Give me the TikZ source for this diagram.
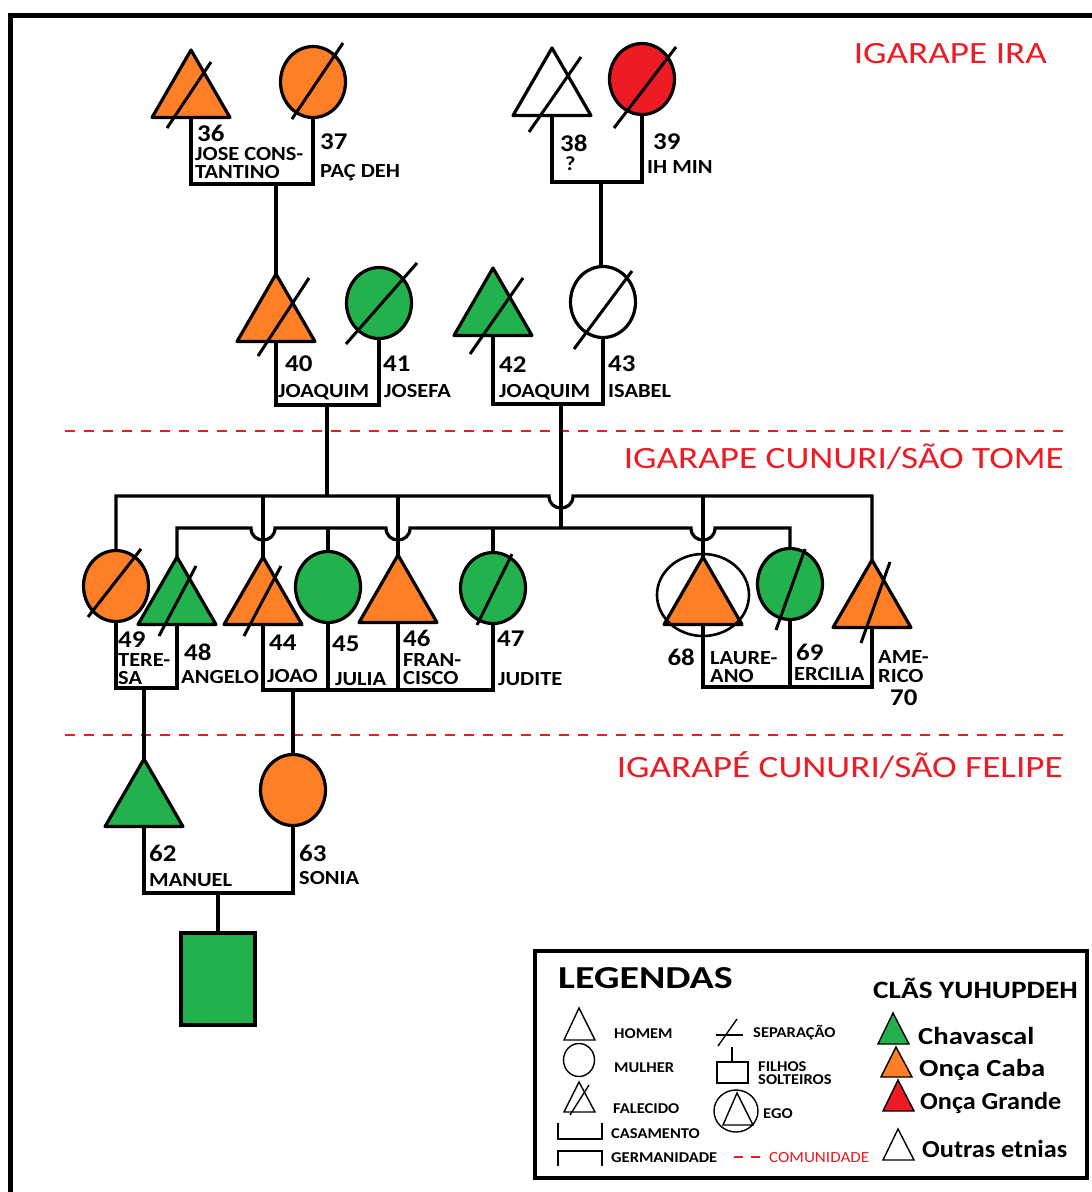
\documentclass[tikz,border=0pt]{standalone}
\usepackage{fontspec}
\setmainfont{Carlito}
\newfontfamily\lblfont[FakeStretch=1.12]{Carlito}
\newfontfamily\legfont[FakeStretch=1.1]{Carlito}
\newfontfamily\placefont[FakeStretch=1.2]{Carlito}
\newfontfamily\titlefont[FakeStretch=1.25]{Carlito}
\newfontfamily\clanfont[FakeStretch=1.17]{Carlito}
\newfontfamily\clannarrow[FakeStretch=1.07]{Carlito}
\usetikzlibrary{shapes.geometric}

\definecolor{clanorange}{RGB}{255,127,39}
\definecolor{clangreen}{RGB}{34,177,76}
\definecolor{clanred}{RGB}{237,28,36}

\begin{document}
\begin{tikzpicture}[x=1pt,y=-1pt,
  kin/.style={line width=3.2pt},
  male/.style={regular polygon, regular polygon sides=3, minimum size=90pt,
    inner sep=0pt, outer sep=0pt, draw, line width=3.2pt, line join=round},
  female/.style={ellipse, minimum width=65pt, minimum height=71pt,
    inner sep=0pt, outer sep=0pt, draw, line width=3.2pt},
  strike/.style={line width=3pt},
  idnum/.style={inner sep=0pt, anchor=base west, font=\lblfont\fontsize{24}{24}\selectfont\bfseries},
  pname/.style={inner sep=0pt, anchor=base west, font=\lblfont\fontsize{20}{20}\selectfont\bfseries},
  placelabel/.style={inner sep=0pt, anchor=base east, text=clanred, font=\placefont\fontsize{31}{31}\selectfont},
  community/.style={draw=clanred, line width=2pt, dash pattern=on 10pt off 9pt},
  legtext/.style={inner sep=0pt, anchor=base west, font=\legfont\fontsize{15}{15}\selectfont\bfseries},
  clantext/.style={inner sep=0pt, anchor=base west, font=\clanfont\fontsize{24.5}{24.5}\selectfont\bfseries},
  clantextn/.style={inner sep=0pt, anchor=base west, font=\clannarrow\fontsize{24.5}{24.5}\selectfont\bfseries},
  icon/.style={line width=1.4pt}
]
\useasboundingbox (0,0) rectangle (1092,1192);
\clip (0,0) rectangle (1092,1192);
\fill[white] (0,0) rectangle (1092,1192);

% outer frame
\draw[line width=4.5pt] (10.5,15.5) rectangle (1200,1300);

% community boundaries
\draw[community] (65,431) -- (1064,431);
\draw[community] (65,735) -- (1064,735);
\node[placelabel] (igira) at (1047,63) {IGARAPE IRA};
\node[placelabel] (igtome) at (1064,468) {IGARAPE CUNURI/SÃO TOME};
\node[placelabel] (igfelipe) at (1063,777) {IGARAPÉ CUNURI/SÃO FELIPE};

% ---- people ----
\node[male, fill=clanorange] (p36) at (191,95) {};
\node[female, fill=clanorange] (p37) at (313,82) {};
\node[male, fill=white] (p38) at (552,93) {};
\node[female, fill=clanred] (p39) at (642,79) {};
\node[male, fill=clanorange] (p40) at (276,319) {};
\node[female, fill=clangreen] (p41) at (379,303) {};
\node[male, fill=clangreen] (p42) at (493,313) {};
\node[female, fill=white] (p43) at (603,302) {};
\node[female, fill=clanorange] (p49) at (116,586) {};
\node[male, fill=clangreen] (p48) at (177,602) {};
\node[male, fill=clanorange] (p44) at (263,602) {};
\node[female, fill=clangreen] (p45) at (328,587) {};
\node[male, fill=clanorange] (p46) at (398,600) {};
\node[female, fill=clangreen] (p47) at (493,588) {};
\node[male, fill=clanorange] (p68) at (703,602) {};
\node[ellipse, draw, line width=2.6pt, minimum width=92pt, minimum height=82pt,
  inner sep=0pt, outer sep=0pt] (ego) at (703,595) {};
\node[female, fill=clangreen] (p69) at (790,584) {};
\node[male, fill=clanorange] (p70) at (872,605) {};
\node[male, fill=clangreen] (p62) at (144,804) {};
\node[female, fill=clanorange] (p63) at (293,790) {};
\node[rectangle, draw, fill=clangreen, minimum width=74pt, minimum height=92pt,
  line width=3.2pt, inner sep=0pt, outer sep=0pt] (c1) at (218,979) {};

% deceased strokes
\draw[strike] ([shift={(-24,33)}]p36.center) -- ([shift={(20,-33)}]p36.center);
\draw[strike] ([shift={(-21,37)}]p37.center) -- ([shift={(30,-39)}]p37.center);
\draw[strike] ([shift={(-23,39)}]p38.center) -- ([shift={(29,-36)}]p38.center);
\draw[strike] ([shift={(-28,49)}]p39.center) -- ([shift={(34,-32)}]p39.center);
\draw[strike] ([shift={(-18,37)}]p40.center) -- ([shift={(33,-41)}]p40.center);
\draw[strike] ([shift={(-33,41)}]p41.center) -- ([shift={(38,-40)}]p41.center);
\draw[strike] ([shift={(-23,41)}]p42.center) -- ([shift={(30,-35)}]p42.center);
\draw[strike] ([shift={(-29,47)}]p43.center) -- ([shift={(29,-31)}]p43.center);
\draw[strike] ([shift={(-28,31)}]p49.center) -- ([shift={(25,-37)}]p49.center);
\draw[strike] ([shift={(-18,34)}]p48.center) -- ([shift={(19,-36)}]p48.center);
\draw[strike] ([shift={(-19,34)}]p44.center) -- ([shift={(18,-36)}]p44.center);
\draw[strike] ([shift={(-16,37)}]p47.center) -- ([shift={(19,-34)}]p47.center);
\draw[strike] ([shift={(-14,46)}]p69.center) -- ([shift={(15,-35)}]p69.center);
\draw[strike] ([shift={(-11,38)}]p70.center) -- ([shift={(18,-43)}]p70.center);

% ---- marriages and descent ----
\coordinate (m36) at (276,184);
\draw[kin] (p36.south) |- (m36) -| (p37.south);
\draw[kin] (m36) -- (p40.north);

\coordinate (m38) at (601,182);
\draw[kin] (p38.south) |- (m38) -| (p39.south);
\draw[kin] (m38) -- (m38 |- p43.north);

\coordinate (m40) at (327,405);
\draw[kin] (p40.south) |- (m40) -| (p41.south);
\coordinate (m42) at (561,404);
\draw[kin] (p42.south) |- (m42) -| (p43.south);

% sibling lines
\coordinate (bus1) at (327,496);
\coordinate (bus2) at (561,528);
\draw[kin] (m40) -- (bus1);
\draw[kin] (m42) -- (bus2);

\coordinate (x1) at (m42 |- bus1);
\draw[kin] (p49.north) -- (p49.north |- bus1) -- ([xshift=-12pt]x1)
  .. controls +(0,16) and +(0,16) .. ([xshift=12pt]x1)
  -- (p70.north |- bus1) -- (p70.north);
\foreach \k in {p44,p46,p68} \draw[kin] (\k.north |- bus1) -- (\k.north);

\coordinate (x2) at (p44.north |- bus2);
\coordinate (x3) at (p46.north |- bus2);
\coordinate (x4) at (p68.north |- bus2);
\draw[kin] (p48.north) -- (p48.north |- bus2)
  -- ([xshift=-12pt]x2) .. controls +(0,16) and +(0,16) .. ([xshift=12pt]x2)
  -- ([xshift=-12pt]x3) .. controls +(0,16) and +(0,16) .. ([xshift=12pt]x3)
  -- ([xshift=-12pt]x4) .. controls +(0,16) and +(0,16) .. ([xshift=12pt]x4)
  -- (p69.north |- bus2) -- (p69.north);
\foreach \k in {p45,p47} \draw[kin] (\k.north |- bus2) -- (\k.north);

% third generation marriages
\coordinate (m49) at (144,688);
\draw[kin] (p49.south) |- (m49) -| (p48.south);
\draw[kin] (m49) -- (p62.north);

\coordinate (m44) at (293,690);
\draw[kin] (p44.south) |- (p47.south |- m44) -- (p47.south);
\draw[kin] (p45.south) -- (p45.south |- m44);
\draw[kin] (p46.south) -- (p46.south |- m44);
\draw[kin] (m44) -- (p63.north);

\coordinate (m68) at (790,687);
\draw[kin] (p68.south) |- (p70.south |- m68) -- (p70.south);
\draw[kin] (p69.south) -- (p69.south |- m68);

\coordinate (m62) at (218,893);
\draw[kin] (p62.south) |- (m62) -| (p63.south);
\draw[kin] (m62) -- (c1.north);

% ---- labels ----
\node[idnum] (l36) at (197,141) {36};
\node[pname] (n36a) at (195,160) {JOSE CONS-};
\node[pname] (n36b) at (195,178) {TANTINO};
\node[idnum] (l37) at (320,149) {37};
\node[pname] (n37) at (320,177) {PAÇ DEH};
\node[idnum] (l38) at (560,151) {38};
\node[pname] (n38) at (565,170) {?};
\node[idnum] (l39) at (653,149) {39};
\node[pname] (n39) at (647,173) {IH MIN};
\node[idnum] (l40) at (285,371) {40};
\node[pname] (n40) at (278,397) {JOAQUIM};
\node[idnum] (l41) at (383,371) {41};
\node[pname] (n41) at (384,397) {JOSEFA};
\node[idnum] (l42) at (499,372) {42};
\node[pname] (n42) at (499,397) {JOAQUIM};
\node[idnum] (l43) at (608,371) {43};
\node[pname] (n43) at (608,397) {ISABEL};
\node[idnum] (l49) at (118,647) {49};
\node[pname] (n49a) at (118,666) {TERE-};
\node[pname] (n49b) at (118,684) {SA};
\node[idnum] (l48) at (184,660) {48};
\node[pname] (n48) at (181,683) {ANGELO};
\node[idnum] (l44) at (269,650) {44};
\node[pname] (n44) at (267,682) {JOAO};
\node[idnum] (l45) at (332,651) {45};
\node[pname] (n45) at (335,685) {JULIA};
\node[idnum] (l46) at (403,646) {46};
\node[pname] (n46a) at (403,666) {FRAN-};
\node[pname] (n46b) at (403,684) {CISCO};
\node[idnum] (l47) at (497,646) {47};
\node[pname] (n47) at (498,685) {JUDITE};
\node[idnum, anchor=base east] (l68) at (695,665) {68};
\node[pname] (n68a) at (710,664) {LAURE-};
\node[pname] (n68b) at (710,682) {ANO};
\node[idnum] (l69) at (796,660) {69};
\node[pname] (n69) at (794,680) {ERCILIA};
\node[pname] (n70a) at (878,663) {AME-};
\node[pname] (n70b) at (878,682) {RICO};
\node[idnum] (l70) at (890,705) {70};
\node[idnum] (l62) at (149,861) {62};
\node[pname] (n62) at (149,886) {MANUEL};
\node[idnum] (l63) at (299,861) {63};
\node[pname] (n63) at (299,884) {SONIA};

% ---- legend ----
\draw[line width=4pt, fill=white] (535,951) rectangle (1087,1178);
\node[inner sep=0pt, anchor=base west, font=\titlefont\fontsize{32}{32}\selectfont\bfseries] (legtitle) at (558,988) {LEGENDAS};

\draw[icon] (564,1040) -- (579,1008) -- (595,1040) -- cycle;
\node[legtext] (lhomem) at (614,1038) {HOMEM};
\draw[icon] (579,1060) ellipse [x radius=15.5, y radius=16.5];
\node[legtext] (lmulher) at (614,1072) {MULHER};
\draw[icon] (564,1112) -- (579,1082) -- (595,1112) -- cycle;
\draw[icon] (570,1115) -- (589,1085);
\node[legtext] (lfalecido) at (613,1113) {FALECIDO};
\draw[icon] (558,1123) -- (558,1139) -- (602,1139) -- (602,1123);
\node[legtext] (lcasamento) at (611,1138) {CASAMENTO};
\draw[icon] (558,1166) -- (558,1151) -- (602,1151) -- (602,1166);
\node[legtext] (lgerman) at (611,1162) {GERMANIDADE};
\draw[draw=clanred, line width=2pt, dash pattern=on 9pt off 8pt] (734,1157) -- (762,1157);
\node[inner sep=0pt, anchor=base west, text=clanred, font=\legfont\fontsize{15.5}{15.5}\selectfont] (lcomun) at (769,1162) {COMUNIDADE};

\draw[icon] (716,1035) -- (743,1035);
\draw[icon] (718,1046) -- (737,1019);
\node[legtext] (lsepar) at (753,1037) {SEPARAÇÃO};
\draw[icon] (732,1047) -- (732,1062);
\draw[icon] (717,1062) rectangle (748,1083);
\node[legtext] (lfilhos) at (758,1071.5) {FILHOS};
\node[legtext] (lsolt) at (758,1084.5) {SOLTEIROS};
\draw[icon] (736,1111) ellipse [x radius=22, y radius=21];
\draw[icon] (723,1125) -- (737,1093) -- (753,1125) -- cycle;
\node[legtext] (lego) at (763,1118) {EGO};

\node[inner sep=0pt, anchor=base west, font=\clanfont\fontsize{25}{25}\selectfont\bfseries] (lclas) at (873,998) {CLÃS YUHUPDEH};
\draw[icon, fill=clangreen] (878,1044) -- (893,1013) -- (909,1044) -- cycle;
\node[clantext] (lchav) at (918,1044) {Chavascal};
\draw[icon, fill=clanorange] (881,1077) -- (896,1047) -- (912,1077) -- cycle;
\node[clantext] (lcaba) at (919,1076) {Onça Caba};
\draw[icon, fill=clanred] (883,1111) -- (898,1080) -- (914,1111) -- cycle;
\node[clantextn] (lgrande) at (920,1109) {Onça Grande};
\draw[icon, fill=white] (883,1160) -- (898,1129) -- (914,1160) -- cycle;
\node[clantextn] (loutras) at (922,1157) {Outras etnias};
\end{tikzpicture}
\end{document}
